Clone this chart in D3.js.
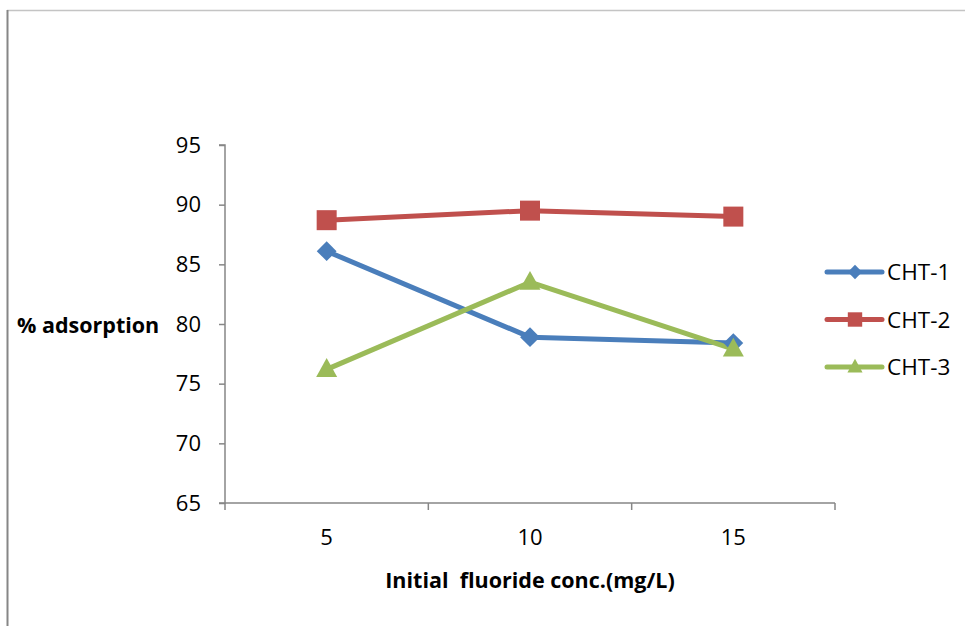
<!DOCTYPE html>
<html>
<head>
<meta charset="utf-8">
<script src="https://cdn.jsdelivr.net/npm/d3@7"></script>
<style>
  html, body { margin: 0; padding: 0; background: #fff; }
  svg { display: block; font-family: "Open Sans", "Liberation Sans", Arial, sans-serif; }
</style>
</head>
<body>
<svg id="chart" width="965" height="626"></svg>
<script>
const categorias = ["5", "10", "15"];
const cht1 = [86.1, 78.9, 78.4];
const cht2 = [88.7, 89.5, 89.0];
const cht3 = [76.2, 83.5, 77.9];
const yTicks = [65, 70, 75, 80, 85, 90, 95];

const series = [
  { nome: "CHT-1", valores: cht1, cor: "#4a7ebb", simbolo: "diamante", lado: 14 },
  { nome: "CHT-2", valores: cht2, cor: "#c0504d", simbolo: "quadrado", lado: 20 },
  { nome: "CHT-3", valores: cht3, cor: "#9bbb59", simbolo: "triangulo", lado: 21 }
];

const W = 965;
const H = 626;
const margin = { top: 145, right: 130, bottom: 123, left: 225 };
const plotW = W - margin.left - margin.right;
const plotH = H - margin.top - margin.bottom;

function marcador(sel, s, escala) {
  const l = s.lado * escala;
  if (s.simbolo === "quadrado") {
    sel.append("rect").attr("x", -l / 2).attr("y", -l / 2).attr("width", l).attr("height", l).attr("fill", s.cor);
  } else if (s.simbolo === "diamante") {
    sel.append("rect").attr("x", -l / 2).attr("y", -l / 2).attr("width", l).attr("height", l)
      .attr("transform", "rotate(45)").attr("fill", s.cor);
  } else {
    const h = l * 0.9;
    sel.append("path").attr("d", `M0,${-h * 0.6}L${l / 2},${h * 0.4}L${-l / 2},${h * 0.4}Z`).attr("fill", s.cor);
  }
}

const svg = d3.select("#chart");

// moldura
svg.append("line").attr("x1", 7).attr("x2", W).attr("y1", 10.5).attr("y2", 10.5)
  .attr("stroke", "#c4c4c4").attr("stroke-width", 1.5);
svg.append("line").attr("x1", 7.5).attr("x2", 7.5).attr("y1", 10).attr("y2", H)
  .attr("stroke", "#868686").attr("stroke-width", 2);

const g = svg.append("g").attr("transform", `translate(${margin.left},${margin.top})`);

const x = d3.scaleBand().domain(categorias).range([0, plotW]).padding(0);
const y = d3.scaleLinear().domain([65, 95]).range([plotH, 0]);

const corEixo = "#868686";

g.append("g")
  .call(d3.axisLeft(y).tickValues(yTicks).tickSize(6).tickPadding(18))
  .call((sel) => sel.selectAll("line,.domain").attr("stroke", corEixo).attr("stroke-width", 1.5))
  .call((sel) => sel.select(".domain").attr("d", `M-6,${plotH}H0V0H-6`))
  .call((sel) => sel.selectAll("text").attr("fill", "#000").attr("font-size", "22px")
    .attr("font-family", "Open Sans, sans-serif"));

const xAxis = g.append("g").attr("transform", `translate(0,${plotH})`);
xAxis.append("path").attr("d", `M0,0H${plotW}`).attr("stroke", corEixo).attr("stroke-width", 1.5).attr("fill", "none");
xAxis.selectAll("line.tick")
  .data([0, 1, 2, 3])
  .join("line")
  .attr("class", "tick")
  .attr("x1", (i) => i * x.bandwidth()).attr("x2", (i) => i * x.bandwidth())
  .attr("y1", 0).attr("y2", 7)
  .attr("stroke", corEixo).attr("stroke-width", 1.5);
xAxis.selectAll("text.rotulo")
  .data(categorias)
  .join("text")
  .attr("class", "rotulo")
  .attr("x", (d) => x(d) + x.bandwidth() / 2)
  .attr("y", 42)
  .attr("text-anchor", "middle")
  .attr("font-size", "22px")
  .text((d) => d);

// títulos dos eixos
svg.append("text")
  .attr("x", 17).attr("y", 333)
  .attr("font-size", "21.5px").attr("font-weight", "bold")
  .text("% adsorption");
svg.append("text")
  .attr("x", 530).attr("y", 588)
  .attr("text-anchor", "middle")
  .attr("font-size", "21.5px").attr("font-weight", "bold")
  .attr("xml:space", "preserve")
  .text("Initial  fluoride conc.(mg/L)");

const linha = d3.line()
  .x((d, i) => x(categorias[i]) + x.bandwidth() / 2)
  .y((d) => y(d));

series.forEach((s) => {
  g.append("path")
    .datum(s.valores)
    .attr("fill", "none")
    .attr("stroke", s.cor)
    .attr("stroke-width", 5)
    .attr("stroke-linejoin", "round")
    .attr("d", linha);
});

series.forEach((s) => {
  g.selectAll(null)
    .data(s.valores)
    .join("g")
    .attr("transform", (d, i) => `translate(${x(categorias[i]) + x.bandwidth() / 2},${y(d)})`)
    .each(function () { marcador(d3.select(this), s, 1); });
});

// legenda
const leg = svg.append("g").attr("transform", "translate(827,272)");
series.forEach((s, i) => {
  const item = leg.append("g").attr("transform", `translate(0,${i * 47.5})`);
  item.append("line").attr("x1", 0).attr("x2", 55).attr("y1", 0).attr("y2", 0)
    .attr("stroke", s.cor).attr("stroke-width", 5).attr("stroke-linecap", "round");
  marcador(item.append("g").attr("transform", "translate(28,0)"), s, 0.72);
  item.append("text").attr("x", 60).attr("y", 8).attr("font-size", "22.5px").text(s.nome);
});
</script>
</body>
</html>
